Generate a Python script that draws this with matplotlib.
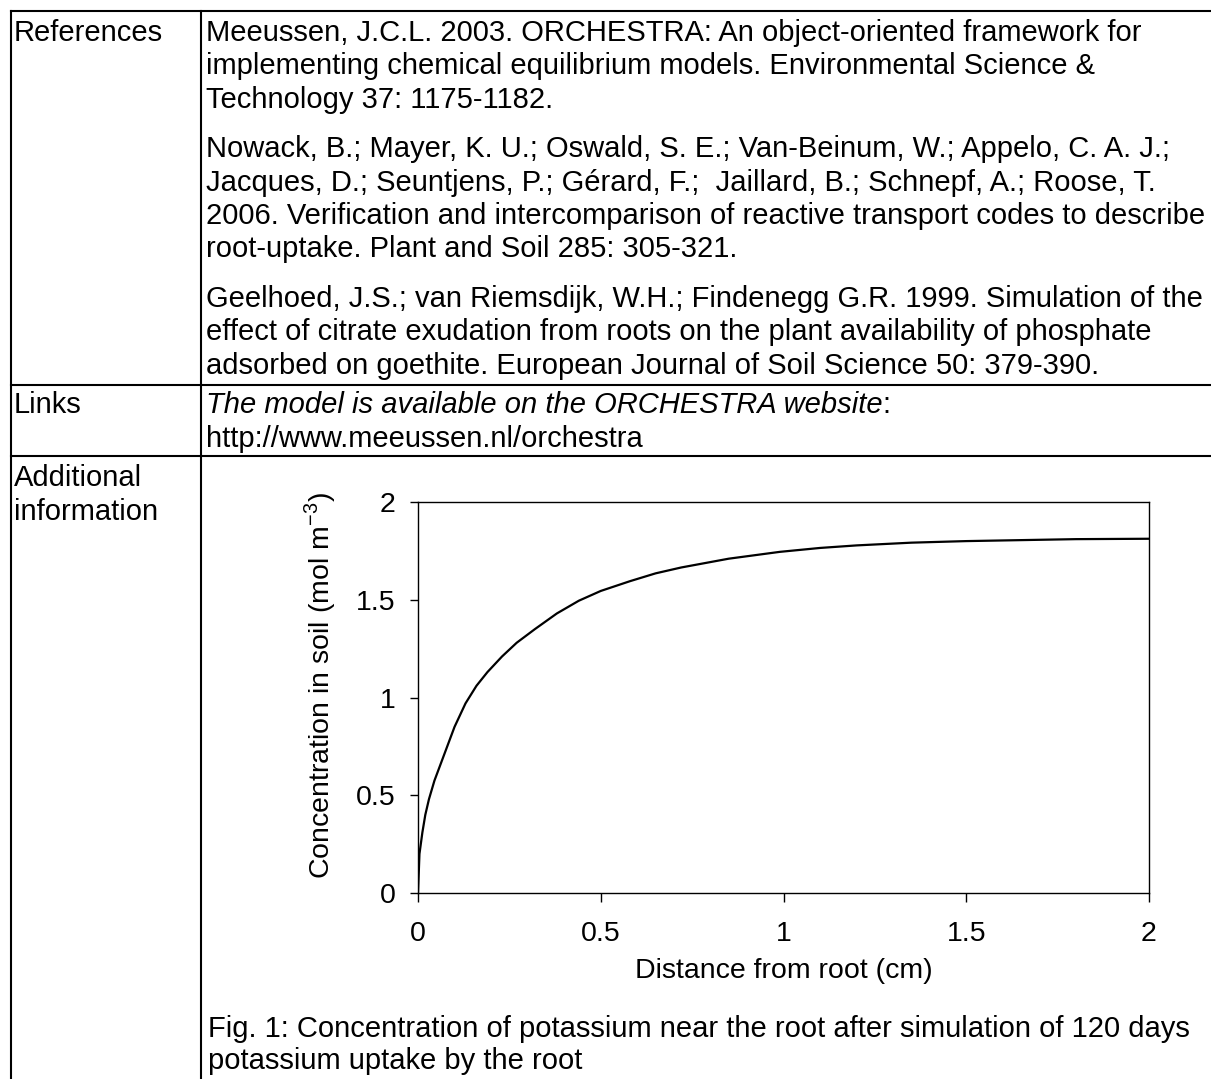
import matplotlib.pyplot as plt
from matplotlib.lines import Line2D

plt.rcParams['font.family'] = ['Liberation Sans', 'DejaVu Sans']
plt.rcParams['mathtext.fontset'] = 'custom'
plt.rcParams['mathtext.rm'] = 'Liberation Sans'

# table text
ref_lines = [
    ["Meeussen, J.C.L. 2003. ORCHESTRA: An object-oriented framework for",
     "implementing chemical equilibrium models. Environmental Science &",
     "Technology 37: 1175-1182."],
    ["Nowack, B.; Mayer, K. U.; Oswald, S. E.; Van-Beinum, W.; Appelo, C. A. J.;",
     "Jacques, D.; Seuntjens, P.; Gérard, F.;  Jaillard, B.; Schnepf, A.; Roose, T.",
     "2006. Verification and intercomparison of reactive transport codes to describe",
     "root-uptake. Plant and Soil 285: 305-321."],
    ["Geelhoed, J.S.; van Riemsdijk, W.H.; Findenegg G.R. 1999. Simulation of the",
     "effect of citrate exudation from roots on the plant availability of phosphate",
     "adsorbed on goethite. European Journal of Soil Science 50: 379-390."],
]
links_italic = "The model is available on the ORCHESTRA website"
links_url = "http://www.meeussen.nl/orchestra"
caption = ["Fig. 1: Concentration of potassium near the root after simulation of 120 days",
           "potassium uptake by the root"]

# curve
distance = [0, 0.004, 0.012, 0.02, 0.03, 0.045, 0.06, 0.08, 0.10, 0.13, 0.16, 0.19,
            0.23, 0.27, 0.32, 0.38, 0.44, 0.5, 0.58, 0.65, 0.72, 0.85, 0.99, 1.1,
            1.2, 1.35, 1.5, 1.8, 2.0]
conc = [0, 0.2, 0.31, 0.40, 0.48, 0.575, 0.65, 0.75, 0.85, 0.97, 1.06, 1.13,
        1.21, 1.28, 1.35, 1.43, 1.495, 1.545, 1.595, 1.635, 1.665, 1.71, 1.745, 1.765,
        1.778, 1.792, 1.80, 1.81, 1.812]
xticks = [0, 0.5, 1, 1.5, 2]
yticks = [0, 0.5, 1, 1.5, 2]

W, H = 1211, 1079
fig = plt.figure(figsize=(W / 100, H / 100), dpi=100)

# page axes in pixel coordinates
bg = fig.add_axes([0, 0, 1, 1])
bg.set_xlim(0, W)
bg.set_ylim(H, 0)
bg.axis('off')

lw = 1.5
for seg in [((11, W), (11, 11)), ((11, W), (384.5, 384.5)), ((11, W), (456, 456)),
            ((11, 11), (11, H)), ((201, 201), (11, H))]:
    bg.add_line(Line2D(seg[0], seg[1], color='black', lw=lw))

fs = 21
bg.text(14, 41, "References", fontsize=fs, va='baseline')
bg.text(14, 413, "Links", fontsize=fs, va='baseline')
bg.text(14, 486, "Additional", fontsize=fs, va='baseline')
bg.text(14, 520, "information", fontsize=fs, va='baseline')

y = 41
for para in ref_lines:
    for line in para:
        bg.text(206, y, line, fontsize=fs, va='baseline')
        y += 33.4
    y += 16

t = bg.text(206, 413, links_italic, fontsize=fs, va='baseline', style='italic')
fig.canvas.draw()
bb = t.get_window_extent()
bg.text(206 + bb.width, 413, ":", fontsize=fs, va='baseline')
bg.text(206, 447, links_url, fontsize=fs, va='baseline')

bg.text(208, 1037, caption[0], fontsize=fs, va='baseline')
bg.text(208, 1069, caption[1], fontsize=fs, va='baseline')

# chart
left, right, top, bottom = 418, 1149, 502, 893
ax = fig.add_axes([left / W, 1 - bottom / H, (right - left) / W, (bottom - top) / H])
ax.plot(distance, conc, color='black', lw=1.6)
ax.set_xlim(0, 2)
ax.set_ylim(0, 2)
ax.set_xticks(xticks)
ax.set_yticks(yticks)
ax.set_xticklabels(['0', '0.5', '1', '1.5', '2'])
ax.set_yticklabels(['0', '0.5', '1', '1.5', '2'])
ax.tick_params(axis='y', direction='out', length=6, width=1, pad=10, labelsize=20.5)
ax.tick_params(axis='x', direction='out', length=6.5, width=1, pad=14, labelsize=20.5)
for s in ax.spines.values():
    s.set_linewidth(1)
ax.set_xlabel("Distance from root (cm)", fontsize=20.5)
ax.set_ylabel("Concentration in soil (mol m$^{\\mathrm{-3}}$)", fontsize=20.5)
ax.xaxis.set_label_coords(0.5, -0.165)
ax.yaxis.set_label_coords(-0.109, 0.53)

fig.savefig('out.png', dpi=100)
